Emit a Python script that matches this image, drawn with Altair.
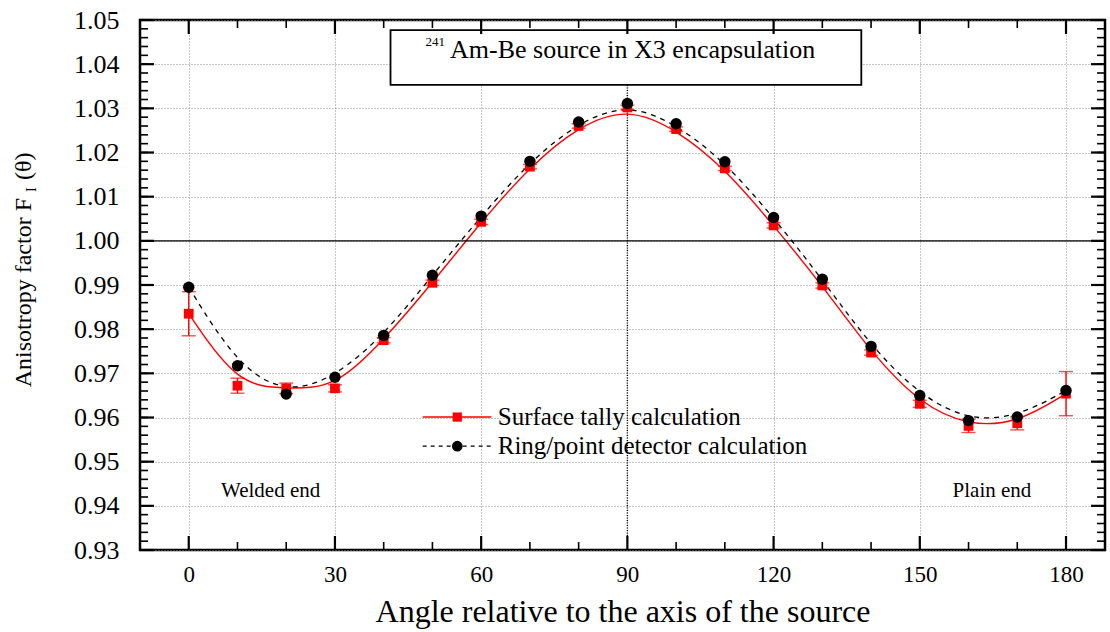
import altair as alt
import pandas as pd

# ---------------- data ----------------
angles = [0, 10, 20, 30, 40, 50, 60, 70, 80, 90, 100, 110, 120, 130, 140, 150, 160, 170, 180]
surface = [0.9835, 0.9672, 0.9666, 0.9666, 0.9775, 0.9905, 1.0043, 1.0168, 1.0260, 1.0302,
           1.0253, 1.0164, 1.0035, 0.9899, 0.9747, 0.9631, 0.9581, 0.9587, 0.9654]
surface_err = [0.0050, 0.0017, 0.0012, 0.0008, 0.0006, 0.0006, 0.0006, 0.0005, 0.0005, 0.0005,
               0.0005, 0.0005, 0.0006, 0.0006, 0.0006, 0.0008, 0.0015, 0.0015, 0.0050]
ring = [0.9895, 0.9717, 0.9653, 0.9691, 0.9786, 0.9922, 1.0056, 1.0180, 1.0269, 1.0311,
        1.0265, 1.0179, 1.0053, 0.9913, 0.9761, 0.9650, 0.9593, 0.9601, 0.9661]

x_ticks = [0, 30, 60, 90, 120, 150, 180]
x_minor = [10, 20, 40, 50, 70, 80, 100, 110, 130, 140, 160, 170]
y_ticks = [0.93, 0.94, 0.95, 0.96, 0.97, 0.98, 0.99, 1.00, 1.01, 1.02, 1.03, 1.04, 1.05]
y_minor = [round(0.93 + 0.002 * i, 3) for i in range(61)]

legend_labels = ["Surface tally calculation", "Ring/point detector calculation"]
legend_y = [0.9601, 0.9535]

title_main = "Am-Be  source in X3 encapsulation"
title_sup = "241"
end_labels = ["Welded end", "Plain end"]
end_x = [16.8, 164.8]
end_y = [0.9420, 0.9420]

W, H = 965, 530
FONT = "Liberation Serif"
xs = alt.Scale(domain=[-10, 188], nice=False, zero=False)
ys = alt.Scale(domain=[0.93, 1.05], nice=False, zero=False)

df = pd.DataFrame({"angle": angles, "surface": surface, "err": surface_err, "ring": ring})
df["lo"] = df["surface"] - df["err"]
df["hi"] = df["surface"] + df["err"]

grid_kw = dict(grid=True, gridColor="#8a8a8a", gridDash=[1, 2], gridWidth=1,
               ticks=False, domain=False, labelFont=FONT, labelColor="black")
xaxis = alt.Axis(values=x_ticks, title="Angle relative to the axis of the source",
                 labelFontSize=23, labelPadding=13, titleFont=FONT, titleFontSize=32,
                 titleFontWeight="normal", titleColor="black", titlePadding=10, **grid_kw)
yaxis = alt.Axis(values=y_ticks, format=".2f", title=None, labelFontSize=26,
                 labelPadding=21, **grid_kw)

X = lambda f: alt.X(f, type="quantitative", scale=xs, axis=xaxis, title="Angle relative to the axis of the source")
Y = lambda f: alt.Y(f, type="quantitative", scale=ys, axis=yaxis, title=None)

red_line = alt.Chart(df).mark_line(color="red", strokeWidth=1.4, interpolate="basis").encode(
    x=X("angle"), y=Y("surface"))

one_df = pd.DataFrame({"y": [1.00], "x": [90]})
one_line = alt.Chart(one_df).mark_rule(color="black", strokeWidth=1.3).encode(y=Y("y"))
ninety = alt.Chart(one_df).mark_rule(color="black", strokeWidth=1.4, strokeDash=[1, 1.5]).encode(x=X("x"))

black_line = alt.Chart(df).mark_line(color="black", strokeWidth=1.3, strokeDash=[5, 5],
                                     interpolate="basis").encode(x=X("angle"), y=Y("ring"))

err_rule = alt.Chart(df).mark_rule(color="red", strokeWidth=1.4).encode(
    x=X("angle"), y=Y("lo"), y2="hi")
err_lo = alt.Chart(df).mark_tick(color="red", orient="horizontal", size=14, thickness=1.4).encode(
    x=X("angle"), y=Y("lo"))
err_hi = alt.Chart(df).mark_tick(color="red", orient="horizontal", size=14, thickness=1.4).encode(
    x=X("angle"), y=Y("hi"))

red_pts = alt.Chart(df).mark_point(shape="square", filled=True, color="red", size=95, opacity=1).encode(
    x=X("angle"), y=Y("surface"))
black_pts = alt.Chart(df).mark_circle(color="black", size=130, opacity=1).encode(
    x=X("angle"), y=Y("ring"))

# title box
box_df = pd.DataFrame({"x1": [41.4], "x2": [138.0], "y1": [1.0477], "y2": [1.0353]})
box = alt.Chart(box_df).mark_rect(fill="white", stroke="black", strokeWidth=1.8).encode(
    x=X("x1"), x2="x2", y=Y("y1"), y2="y2")
sup_txt = alt.Chart(pd.DataFrame({"x": [48.6], "y": [1.0441], "t": [title_sup]})).mark_text(
    font=FONT, fontSize=13, align="left", baseline="alphabetic", color="black").encode(
    x=X("x"), y=Y("y"), text="t:N")
main_txt = alt.Chart(pd.DataFrame({"x": [53.6], "y": [1.0414], "t": [title_main]})).mark_text(
    font=FONT, fontSize=26, align="left", baseline="alphabetic", color="black").encode(
    x=X("x"), y=Y("y"), text="t:N")

ends = alt.Chart(pd.DataFrame({"x": end_x, "y": end_y, "t": end_labels})).mark_text(
    font=FONT, fontSize=21, align="center", baseline="alphabetic", color="black").encode(
    x=X("x"), y=Y("y"), text="t:N")

# legend
leg_df = pd.DataFrame({"x1": [48.0, 48.0], "x2": [62.1, 62.1], "xm": [55.1, 55.1],
                       "xt": [63.4, 63.4], "y": legend_y, "t": legend_labels})
leg_red_line = alt.Chart(leg_df.iloc[[0]]).mark_rule(color="red", strokeWidth=1.4).encode(
    x=X("x1"), x2="x2", y=Y("y"))
leg_blk_line = alt.Chart(leg_df.iloc[[1]]).mark_rule(color="black", strokeWidth=1.3, strokeDash=[4, 4]).encode(
    x=X("x1"), x2="x2", y=Y("y"))
leg_red_pt = alt.Chart(leg_df.iloc[[0]]).mark_point(shape="square", filled=True, color="red", size=85, opacity=1).encode(
    x=X("xm"), y=Y("y"))
leg_blk_pt = alt.Chart(leg_df.iloc[[1]]).mark_circle(color="black", size=115, opacity=1).encode(
    x=X("xm"), y=Y("y"))
leg_txt = alt.Chart(leg_df).mark_text(font=FONT, fontSize=25, align="left", baseline="middle",
                                      color="black").encode(x=X("xt"), y=Y("y"), text="t:N")

# inward ticks
ymaj = pd.DataFrame({"v": y_ticks})
ymin = pd.DataFrame({"v": y_minor})
xmaj = pd.DataFrame({"v": x_ticks})
xmin = pd.DataFrame({"v": x_minor})
tick_layers = []
for d, ln, sw in [(ymaj, 14, 2.2), (ymin, 8, 1.6)]:
    tick_layers.append(alt.Chart(d).mark_rule(color="black", strokeWidth=sw).encode(
        y=Y("v"), x=alt.value(0), x2=alt.value(ln)))
    tick_layers.append(alt.Chart(d).mark_rule(color="black", strokeWidth=sw).encode(
        y=Y("v"), x=alt.value(W - ln), x2=alt.value(W)))
for d, ln, sw in [(xmaj, 14, 2.2), (xmin, 8, 1.6)]:
    tick_layers.append(alt.Chart(d).mark_rule(color="black", strokeWidth=sw).encode(
        x=X("v"), y=alt.value(0), y2=alt.value(ln)))
    tick_layers.append(alt.Chart(d).mark_rule(color="black", strokeWidth=sw).encode(
        x=X("v"), y=alt.value(H - ln), y2=alt.value(H)))

# y title (rotated, with subscript)
yt_main = alt.Chart(pd.DataFrame({"t": ["Anisotropy factor F"]})).mark_text(
    font=FONT, fontSize=24, angle=270, align="right", baseline="alphabetic", color="black").encode(
    x=alt.value(-109), y=alt.value(178), text="t:N")
yt_sub = alt.Chart(pd.DataFrame({"t": ["I"]})).mark_text(
    font=FONT, fontSize=14, angle=270, align="left", baseline="alphabetic", color="black").encode(
    x=alt.value(-104), y=alt.value(172), text="t:N")
yt_end = alt.Chart(pd.DataFrame({"t": ["(θ)"]})).mark_text(
    font=FONT, fontSize=24, angle=270, align="left", baseline="alphabetic", color="black").encode(
    x=alt.value(-109), y=alt.value(160), text="t:N")

chart = alt.layer(
    red_line, one_line, ninety, black_line, err_rule, err_lo, err_hi, red_pts, black_pts,
    box, sup_txt, main_txt, ends,
    leg_red_line, leg_blk_line, leg_red_pt, leg_blk_pt, leg_txt,
    *tick_layers, yt_main, yt_sub, yt_end,
).properties(
    width=W, height=H,
    autosize=alt.AutoSizeParams(type="none"),
    padding={"left": 140, "top": 20, "right": 5, "bottom": 82},
    background="white",
).configure_view(stroke="black", strokeWidth=2.5)

chart.save("out.html", embed_options={"renderer": "svg", "actions": False})
